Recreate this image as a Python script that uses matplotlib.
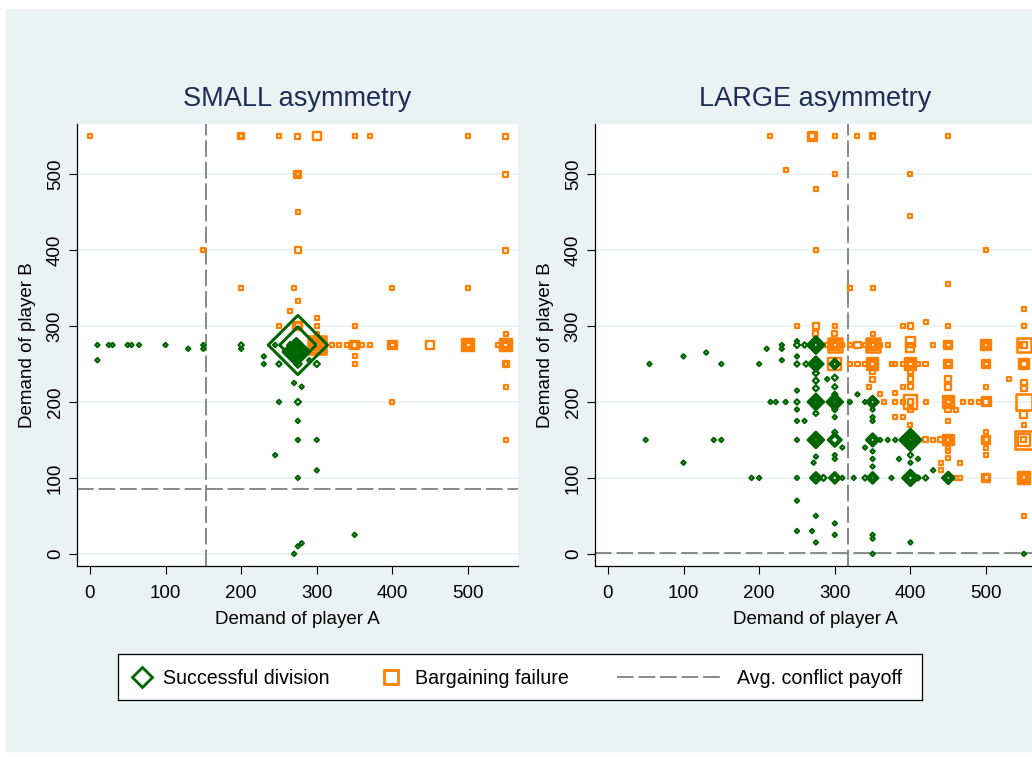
import numpy as np
import matplotlib
matplotlib.use("Agg")
import matplotlib.pyplot as plt
from matplotlib.patches import Rectangle

plt.rcParams['font.family'] = ['Liberation Sans', 'DejaVu Sans']
plt.rcParams['lines.scale_dashes'] = False

# (demand of player A, demand of player B, number of pairs)
small_success = [
    (275, 275, 190), (275, 275, 72),
    (273, 266, 39), (273, 266, 25), (273, 266, 14), (273, 266, 7), (273, 266, 3), (273, 266, 1),
    (275, 250, 3), (268, 268, 3), (282, 268, 3), (265, 275, 2),
    (10, 275, 1), (10, 255, 1), (25, 275, 1), (30, 275, 1), (50, 275, 1), (55, 275, 1),
    (65, 275, 1), (100, 275, 1), (130, 270, 1), (150, 275, 1), (150, 270, 1), (200, 275, 1.5),
    (200, 270, 1), (230, 260, 1), (230, 250, 1), (245, 275, 1), (250, 250, 1.5), (290, 255, 1),
    (300, 250, 2), (270, 225, 1), (280, 220, 1), (250, 200, 1), (275, 200, 2), (275, 175, 1),
    (275, 150, 1), (300, 150, 1), (245, 130, 1), (300, 110, 1), (275, 100, 1), (350, 25, 1),
    (280, 14, 1), (275, 10, 1), (270, 0, 1),
]
small_failure = [
    (0, 550, 1), (200, 550, 2), (200, 550, 1), (250, 550, 1), (275, 550, 1.5), (300, 550, 4),
    (350, 550, 1), (370, 550, 1), (500, 550, 1), (550, 550, 1.5),
    (275, 500, 3), (275, 500, 1), (550, 500, 1.5), (275, 450, 1),
    (150, 400, 1), (275, 400, 2), (550, 400, 1.5),
    (200, 350, 1), (270, 350, 1), (400, 350, 1), (500, 350, 1),
    (275, 333, 1), (265, 320, 1), (250, 300, 1), (300, 310, 1), (300, 300, 1), (300, 290, 1),
    (350, 300, 1), (550, 290, 1), (275, 300, 5), (275, 300, 2),
    (300, 275, 20), (300, 275, 12), (300, 275, 6), (300, 275, 3), (300, 275, 1),
    (320, 275, 1), (330, 275, 1), (340, 275, 1), (350, 275, 5), (350, 275, 2), (360, 275, 1),
    (370, 275, 1), (400, 275, 5), (400, 275, 1.5), (450, 275, 4), (500, 275, 8), (500, 275, 4),
    (500, 275, 1.5), (540, 275, 1), (550, 275, 9), (550, 275, 4), (550, 275, 1.5),
    (350, 260, 1), (350, 250, 1), (550, 250, 2), (550, 250, 1), (550, 220, 1), (400, 200, 1),
    (550, 150, 1),
]
large_success = [
    (55, 250, 1), (100, 260, 1), (130, 265, 1), (150, 250, 1), (200, 250, 1), (210, 270, 1),
    (230, 275, 1), (230, 270, 1), (230, 255, 1), (50, 150, 1), (140, 150, 1), (150, 150, 1),
    (100, 120, 1), (190, 100, 1), (200, 100, 1), (215, 200, 1), (222, 200, 1), (235, 200, 1),
    (250, 280, 1), (250, 275, 2), (250, 260, 1), (250, 250, 1.5), (250, 215, 1), (250, 200, 1.5),
    (250, 190, 1), (250, 175, 1), (250, 150, 1), (250, 100, 1), (250, 70, 1), (250, 30, 1),
    (260, 275, 1.5), (262, 250, 1.5), (260, 175, 1),
    (275, 275, 16), (275, 275, 9), (275, 275, 4), (275, 275, 1.5),
    (275, 250, 12), (275, 250, 6), (275, 250, 2.5), (275, 250, 1),
    (275, 238, 2), (275, 228, 2), (275, 218, 2),
    (275, 200, 14), (275, 200, 7), (275, 200, 3), (275, 200, 1), (275, 185, 1.5),
    (275, 150, 14), (275, 150, 7), (275, 150, 3), (275, 150, 1),
    (275, 128, 1), (272, 120, 1), (275, 100, 7), (275, 100, 3), (275, 100, 1), (285, 100, 2),
    (275, 50, 1), (270, 30, 1), (275, 15, 1),
    (300, 250, 6), (300, 250, 1.5), (290, 230, 1), (300, 232, 2), (300, 220, 1.5), (300, 210, 1.5),
    (300, 200, 14), (300, 200, 7), (300, 200, 3), (300, 200, 1), (300, 190, 1.5), (300, 180, 1),
    (300, 160, 1.5), (300, 150, 10), (300, 150, 4), (310, 140, 1), (300, 130, 1), (300, 125, 1),
    (300, 100, 7), (300, 100, 2), (310, 100, 1), (300, 40, 1), (300, 25, 1),
    (320, 200, 1), (330, 210, 1), (325, 100, 1),
    (340, 200, 1), (350, 200, 8), (350, 200, 4), (350, 200, 1.5), (350, 190, 1), (350, 180, 1),
    (350, 175, 1), (340, 140, 1), (350, 150, 9), (350, 150, 4), (350, 150, 1.5), (360, 150, 1),
    (370, 150, 1), (380, 150, 1), (350, 135, 1), (350, 125, 1), (350, 115, 1), (340, 100, 1.5),
    (350, 100, 7), (350, 100, 3), (350, 100, 1), (375, 100, 1), (350, 25, 1), (350, 20, 1),
    (350, 0, 1),
    (400, 150, 25), (400, 150, 14), (400, 150, 7), (400, 150, 3), (400, 150, 1), (385, 125, 1),
    (400, 130, 1.5), (400, 120, 1), (410, 125, 1), (400, 100, 14), (400, 100, 6), (400, 100, 2),
    (410, 100, 1.5), (420, 100, 1.5), (430, 110, 1), (400, 15, 1),
    (450, 100, 8), (450, 100, 4), (450, 100, 1.5), (550, 0, 1),
]
large_failure = [
    (215, 550, 1), (270, 550, 5), (270, 550, 2), (300, 550, 1), (330, 550, 1), (350, 550, 2),
    (350, 550, 1), (450, 550, 1), (235, 505, 1), (300, 500, 1), (400, 500, 1), (275, 480, 1),
    (400, 445, 1), (275, 400, 1), (500, 400, 1), (450, 355, 1), (320, 350, 1), (350, 350, 1),
    (550, 323, 1), (250, 300, 1), (275, 300, 2), (300, 300, 1), (390, 300, 1), (400, 300, 2),
    (420, 305, 1), (450, 300, 1), (550, 300, 1), (275, 290, 1.5), (300, 290, 1.5), (350, 290, 1),
    (280, 275, 1), (290, 275, 1), (300, 275, 13), (300, 275, 7), (300, 275, 3), (300, 275, 1),
    (310, 275, 1), (320, 275, 1), (330, 275, 3), (340, 275, 1), (350, 275, 12), (350, 275, 6),
    (350, 275, 3), (350, 275, 1), (360, 275, 1), (370, 275, 1), (400, 279, 6), (400, 271, 4),
    (400, 275, 1.5), (430, 275, 1), (450, 275, 4), (450, 275, 1.5), (500, 275, 6), (500, 275, 3),
    (500, 275, 1), (545, 275, 1), (550, 275, 12), (550, 275, 3),
    (300, 250, 10), (320, 250, 1), (330, 250, 1.5), (340, 250, 1), (350, 250, 8), (350, 250, 4),
    (350, 250, 1.5), (375, 250, 1), (380, 250, 1), (390, 250, 1), (400, 250, 8), (400, 250, 4),
    (400, 250, 1.5), (410, 250, 1.5), (420, 250, 1.5), (450, 250, 4), (450, 250, 1.5), (500, 250, 4),
    (500, 250, 1.5), (550, 250, 6), (550, 250, 2),
    (350, 240, 1.5), (350, 230, 1.5), (400, 240, 1.5), (400, 230, 2), (450, 230, 2), (450, 220, 2.5),
    (500, 220, 1), (530, 230, 1), (550, 225, 2), (550, 218, 2), (345, 220, 1), (360, 210, 1),
    (390, 220, 1), (380, 212, 1), (400, 220, 1.5),
    (365, 200, 1), (380, 200, 1), (390, 200, 1), (400, 200, 11), (400, 200, 2), (420, 200, 1),
    (450, 200, 8), (450, 200, 4), (450, 200, 1.5), (470, 200, 1), (480, 200, 1), (490, 200, 1),
    (500, 200, 5), (500, 200, 2), (550, 200, 16),
    (380, 180, 1), (390, 180, 1), (400, 190, 1.5), (400, 170, 1), (450, 190, 2), (460, 190, 1),
    (450, 175, 1), (550, 183, 3), (550, 170, 1), (500, 160, 1),
    (420, 150, 1.5), (430, 150, 1), (440, 150, 1.5), (450, 150, 7), (450, 150, 3), (450, 150, 1),
    (500, 150, 4), (500, 150, 1.5), (500, 140, 1), (500, 130, 1), (550, 150, 20), (550, 150, 8),
    (550, 150, 1.5), (450, 140, 1), (450, 135, 1), (450, 126, 1), (440, 120, 1), (465, 120, 1),
    (440, 110, 1), (460, 100, 1), (465, 100, 1), (500, 100, 4), (500, 100, 1.5), (545, 100, 1),
    (550, 100, 8), (550, 100, 4), (550, 100, 1.5), (550, 50, 1),
]

# average conflict payoff (player A, player B)
conflict_small = (154, 85)
conflict_large = (318, 1.5)

titles = ['SMALL asymmetry', 'LARGE asymmetry']
ticks = [0, 100, 200, 300, 400, 500]

W, H = 1032, 757
green = '#006400'
orange = '#ff8000'
bg = '#eaf2f3'

fig = plt.figure(figsize=(W / 100, H / 100), dpi=100)
fig.patches.append(Rectangle((6 / W, 6 / H), 1 - 6 / W, (751 - 9) / H,
                             transform=fig.transFigure, color=bg, zorder=-10))


def draw(ax, pts, marker, color):
    x, y, n = np.array(pts, dtype=float).T
    if marker == 'D':
        w = 4.3 * np.sqrt(n)          # vertex to vertex, px
        m = w * 0.72 / 1.414
    else:
        w = 4.0 * np.sqrt(n)          # side, px
        m = w * 0.72
    lw = np.minimum(2.1 + 0.03 * w, 3.0) * 0.72
    ax.scatter(x, y, s=m ** 2, marker=marker, facecolors='none', edgecolors=color,
               linewidths=lw, zorder=3)


panels = [(77, small_success, small_failure, conflict_small),
          (595, large_success, large_failure, conflict_large)]
for i, (left, succ, fail, conf) in enumerate(panels):
    ax = fig.add_axes([left / W, 1 - 566 / H, 441 / W, 442 / H])
    ax.set_xlim(-17, 566)
    ax.set_ylim(-16, 566)
    ax.axvline(conf[0], color='#808080', lw=1.3, dashes=(12, 3.5), zorder=2)
    ax.axhline(conf[1], color='#808080', lw=1.3, dashes=(12, 3.5), zorder=2)
    draw(ax, fail, 's', orange)
    draw(ax, succ, 'D', green)
    ax.set_xticks(ticks)
    ax.set_yticks(ticks)
    ax.yaxis.grid(True, color=bg, lw=1.3)
    ax.set_axisbelow(True)
    for sp in ['top', 'right']:
        ax.spines[sp].set_visible(False)
    for sp in ['left', 'bottom']:
        ax.spines[sp].set_linewidth(0.9)
    ax.tick_params(length=5.5, width=0.8, labelsize=13.5, pad=4)
    ax.tick_params(axis='x', pad=8)
    ax.tick_params(axis='y', labelrotation=90)
    for lab in ax.get_yticklabels():
        lab.set_va('center')
    ax.set_xlabel('Demand of player A', fontsize=13.5, labelpad=7)
    ax.set_ylabel('Demand of player B', fontsize=13.5, labelpad=8)
    ax.set_title(titles[i], fontsize=19.5, color='#1e2d55', pad=13)

# legend box, drawn in pixel units
lax = fig.add_axes([118 / W, 1 - 700 / H, 804 / W, 46 / H])
lax.set_xlim(118, 922)
lax.set_ylim(700, 654)
lax.set_xticks([])
lax.set_yticks([])
for sp in lax.spines.values():
    sp.set_linewidth(0.9)
lax.plot([142], [677], marker='D', ms=10.5, mfc='none', mec=green, mew=2)
lax.text(163, 678, 'Successful division', fontsize=14.1, va='center')
lax.plot([391], [677], marker='s', ms=10, mfc='none', mec=orange, mew=2)
lax.text(415, 678, 'Bargaining failure', fontsize=14.1, va='center')
lax.plot([617, 720], [677, 677], color='#808080', lw=1.3, dashes=(12, 3.5))
lax.text(737, 678, 'Avg. conflict payoff', fontsize=14.1, va='center')

fig.savefig('out.png', dpi=100, facecolor='white')
